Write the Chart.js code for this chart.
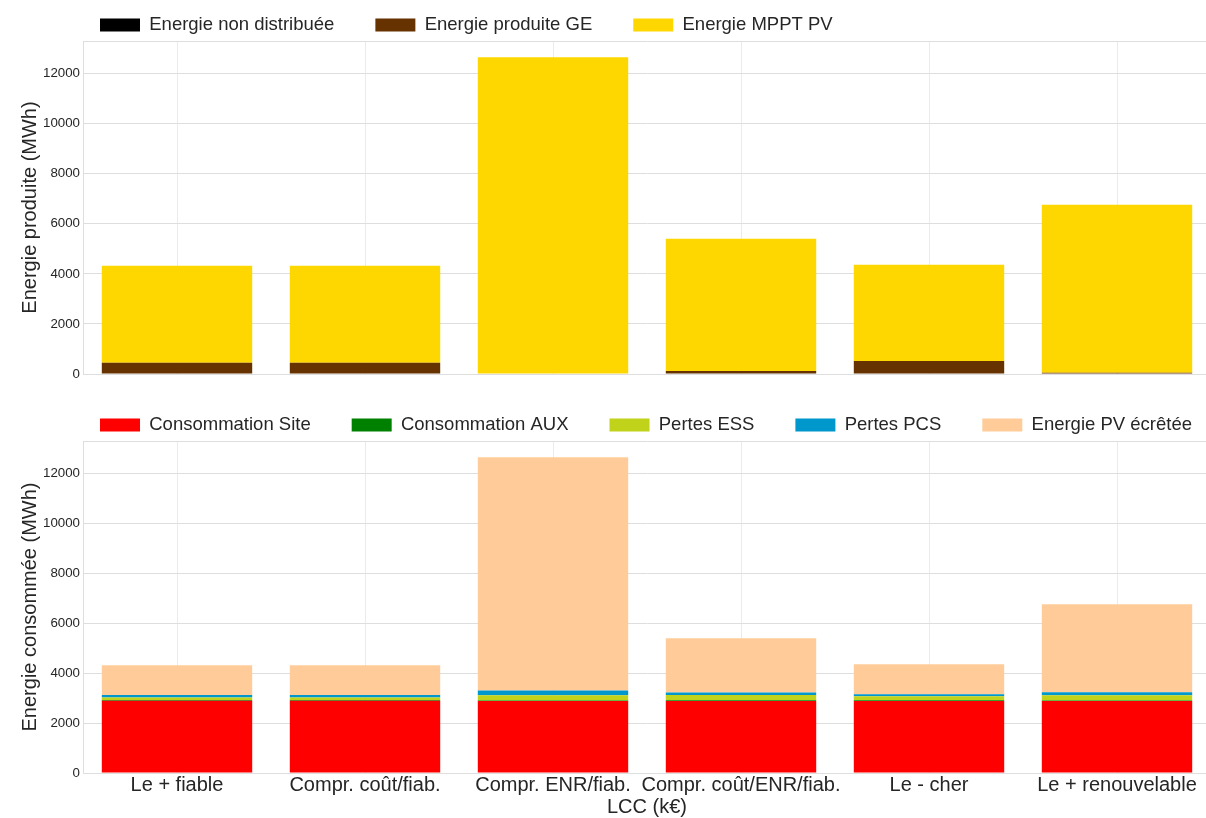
<!DOCTYPE html>
<html lang="fr">
<head>
  <meta charset="UTF-8" />
  <title>Energie produite / consommée</title>
  <script src="https://cdn.jsdelivr.net/npm/chart.js@4.4.0/dist/chart.umd.min.js"></script>
  <style>
    html, body {
      margin: 0;
      padding: 0;
      background: #fff;
      width: 1206px;
      height: 818px;
      overflow: hidden;
      position: relative;
    }
    canvas { position: absolute; left: 0; }
    #prodChart { top: 0; }
    #consoChart { top: 400px; }
  </style>
</head>
<body>
  <canvas id="prodChart" width="1211" height="385"></canvas>
  <canvas id="consoChart" width="1211" height="420"></canvas>

  <script>
    // categories (x axis)
    const scenarios = ['Le + fiable', 'Compr. coût/fiab.', 'Compr. ENR/fiab.', 'Compr. coût/ENR/fiab.', 'Le - cher', 'Le + renouvelable'];

    // top chart : energie produite (MWh)
    const energieNonDistribuee = [0, 0, 0, 0, 0, 0];
    const energieProduiteGE = [450, 450, 0, 120, 520, 50];
    const energieMpptPV = [3870, 3870, 12650, 5280, 3840, 6710];

    // bottom chart : energie consommée (MWh)
    const consoSite = [2890, 2890, 2880, 2880, 2880, 2880];
    const consoAux = [30, 30, 20, 30, 30, 20];
    const pertesESS = [100, 100, 210, 210, 160, 210];
    const pertesPCS = [100, 100, 190, 100, 80, 120];
    const pvEcretee = [1200, 1200, 9350, 2180, 1210, 3530];

    // y ticks (same for both charts)
    const yTicks = [0, 2000, 4000, 6000, 8000, 10000, 12000];
    const yMax = 13300;

    const FONT = "'Liberation Sans', Arial, sans-serif";
    const TEXT = '#262626';
    const GRID = '#dedede';
    const LEGEND_PAD = 41;
    const LEGEND_SIZE = 18.5;

    // move the legend to where the reference draws it (left aligned at x=100)
    // the legend clips to its own box, so the box is widened to hold the text
    const legendPlacer = {
      id: 'legendPlacer',
      afterLayout(chart, args, opts) {
        const lg = chart.legend;
        if (!lg) return;
        lg.left = opts.x - LEGEND_PAD;
        lg.right = chart.width + 300;
        lg.top = opts.y - LEGEND_PAD - LEGEND_SIZE / 2;
        lg.bottom = opts.y + LEGEND_SIZE;
      }
    };

    function makeOptions(yTitle, legendY, showX) {
      return {
        responsive: false,
        animation: false,
        layout: { padding: { left: 14, right: 0, top: 0, bottom: 0 } },
        plugins: {
          legendPlacer: { x: 100, y: legendY },
          legend: {
            position: 'top',
            align: 'start',
            maxHeight: 41,
            labels: {
              boxWidth: 40,
              boxHeight: 13,
              padding: LEGEND_PAD,
              color: TEXT,
              font: { family: FONT, size: LEGEND_SIZE }
            }
          },
          tooltip: { enabled: false }
        },
        scales: {
          x: {
            stacked: true,
            grid: { offset: false, color: '#ebebeb', drawTicks: false },
            border: { color: GRID },
            ticks: {
              display: showX,
              autoSkip: false,
              maxRotation: 0,
              minRotation: 0,
              padding: 2,
              color: TEXT,
              font: { family: FONT, size: 20, lineHeight: 1.0 }
            },
            title: {
              display: showX,
              text: 'LCC (k€)',
              color: TEXT,
              padding: { top: 0, bottom: 3 },
              font: { family: FONT, size: 20, lineHeight: 1.0 }
            }
          },
          y: {
            stacked: true,
            min: 0,
            max: yMax,
            grid: { color: GRID, drawTicks: false },
            border: { color: GRID },
            afterBuildTicks(scale) {
              scale.ticks = yTicks.concat([yMax]).map(v => ({ value: v }));
            },
            ticks: {
              padding: 3,
              color: TEXT,
              font: { family: FONT, size: 13.3 },
              callback: v => (yTicks.includes(v) ? String(v) : '')
            },
            title: {
              display: true,
              text: yTitle,
              color: TEXT,
              padding: { top: 4, bottom: 4 },
              font: { family: FONT, size: 20 }
            },
            afterFit(scale) { scale.width = 69; }
          }
        }
      };
    }

    function bar(label, data, color) {
      return {
        label: label,
        data: data,
        backgroundColor: color,
        borderWidth: 0,
        barPercentage: 0.8,
        categoryPercentage: 1.0
      };
    }

    new Chart(document.getElementById('prodChart'), {
      type: 'bar',
      data: {
        labels: scenarios,
        datasets: [
          bar('Energie non distribuée', energieNonDistribuee, '#000000'),
          bar('Energie produite GE', energieProduiteGE, '#663300'),
          bar('Energie MPPT PV', energieMpptPV, '#ffd700')
        ]
      },
      options: makeOptions('Energie produite (MWh)', 25, false),
      plugins: [legendPlacer]
    });

    new Chart(document.getElementById('consoChart'), {
      type: 'bar',
      data: {
        labels: scenarios,
        datasets: [
          bar('Consommation Site', consoSite, '#ff0000'),
          bar('Consommation AUX', consoAux, '#008000'),
          bar('Pertes ESS', pertesESS, '#c1d21b'),
          bar('Pertes PCS', pertesPCS, '#0098cc'),
          bar('Energie PV écrêtée', pvEcretee, '#ffcc99')
        ]
      },
      options: makeOptions('Energie consommée (MWh)', 25, true),
      plugins: [legendPlacer]
    });
  </script>
</body>
</html>
